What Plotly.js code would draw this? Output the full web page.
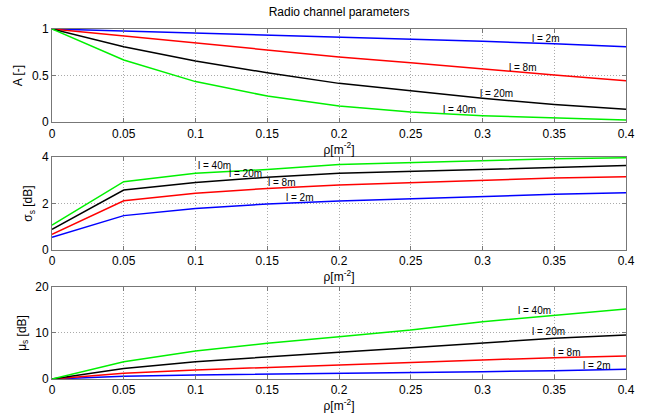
<!DOCTYPE html>
<html>
<head>
<meta charset="utf-8">
<script src="https://cdn.plot.ly/plotly-3.0.1.min.js"></script>
<style>html,body{margin:0;padding:0;background:#fff}#chart{width:647px;height:419px}</style>
</head>
<body>
<div id="chart"></div>
<script>
// Data
const rho = [0, 0.05, 0.1, 0.15, 0.2, 0.25, 0.3, 0.35, 0.4];
const seriesNames = ['l = 2m', 'l = 8m', 'l = 20m', 'l = 40m'];
const seriesColors = ['#0000ff', '#ff0000', '#000000', '#00f000'];

const A_l2  = [1, 0.978, 0.957, 0.935, 0.917, 0.892, 0.868, 0.842, 0.81];
const A_l8  = [1, 0.925, 0.846, 0.774, 0.70, 0.638, 0.57, 0.505, 0.444];
const A_l20 = [1, 0.81, 0.656, 0.53, 0.416, 0.337, 0.255, 0.19, 0.137];
const A_l40 = [1, 0.667, 0.435, 0.28, 0.172, 0.108, 0.068, 0.043, 0.022];

const sig_l2  = [0.55, 1.48, 1.79, 1.98, 2.11, 2.21, 2.31, 2.40, 2.46];
const sig_l8  = [0.67, 2.12, 2.44, 2.65, 2.80, 2.91, 3.01, 3.10, 3.15];
const sig_l20 = [0.89, 2.58, 2.91, 3.13, 3.30, 3.38, 3.48, 3.57, 3.64];
const sig_l40 = [1.07, 2.94, 3.30, 3.47, 3.68, 3.77, 3.86, 3.93, 3.97];

const mu_l2  = [0, 0.58, 0.87, 1.09, 1.23, 1.45, 1.60, 1.80, 2.10];
const mu_l8  = [0, 1.23, 1.96, 2.54, 3.04, 3.55, 4.13, 4.64, 5.00];
const mu_l20 = [0, 2.30, 3.77, 4.86, 5.80, 6.80, 7.90, 8.84, 9.56];
const mu_l40 = [0, 3.77, 6.09, 7.75, 9.20, 10.65, 12.46, 13.90, 15.20];

const xTickVals = [0, 0.05, 0.1, 0.15, 0.2, 0.25, 0.3, 0.35, 0.4];
const xTickText = ['0', '0.05', '0.1', '0.15', '0.2', '0.25', '0.3', '0.35', '0.4'];

// label positions (data coords) for the in-plot series labels
const labelsA   = [[0.344, 0.90], [0.328, 0.59], [0.31, 0.31], [0.284, 0.14]];
const labelsSig = [[0.173, 2.24], [0.160, 2.92], [0.135, 3.31], [0.113, 3.63]];
const labelsMu  = [[0.380, 3.0], [0.359, 5.7], [0.346, 10.3], [0.336, 14.85]];

const groups = [
  {ys: [A_l2, A_l8, A_l20, A_l40], xa: 'x', ya: 'y', labels: labelsA},
  {ys: [sig_l2, sig_l8, sig_l20, sig_l40], xa: 'x2', ya: 'y2', labels: labelsSig},
  {ys: [mu_l2, mu_l8, mu_l20, mu_l40], xa: 'x3', ya: 'y3', labels: labelsMu}
];

const traces = [];
const annotations = [];
groups.forEach(g => {
  g.ys.forEach((y, i) => {
    traces.push({x: rho, y: y, xaxis: g.xa, yaxis: g.ya, type: 'scatter', mode: 'lines',
      line: {color: seriesColors[i], width: 1.5}, showlegend: false, hoverinfo: 'skip'});
    annotations.push({x: g.labels[i][0], y: g.labels[i][1], xref: g.xa, yref: g.ya,
      text: seriesNames[i], showarrow: false, xanchor: 'center', yanchor: 'middle',
      font: {family: 'Liberation Sans, Arial, sans-serif', size: 10, color: '#000'}});
  });
});

const font = {family: 'Liberation Sans, Arial, sans-serif', size: 12, color: '#000'};
function xax(anchor) {
  return {anchor: anchor, range: [0, 0.4], tickvals: xTickVals, ticktext: xTickText,
    showline: true, mirror: 'ticks', linecolor: '#777', linewidth: 1,
    ticks: 'inside', ticklen: 4, tickcolor: '#777',
    showgrid: true, gridcolor: '#aaaaaa', griddash: '1px,2px', gridwidth: 1,
    zeroline: false, tickfont: font,
    title: {text: 'ρ[m<sup>-2</sup>]', font: font, standoff: 2}};
}
function yax(anchor, domain, range, tv, tt, title) {
  return {anchor: anchor, domain: domain, range: range, tickvals: tv, ticktext: tt,
    showline: true, mirror: 'ticks', linecolor: '#777', linewidth: 1,
    ticks: 'inside', ticklen: 4, tickcolor: '#777',
    showgrid: true, gridcolor: '#aaaaaa', griddash: '1px,2px', gridwidth: 1,
    zeroline: false, tickfont: font,
    title: {text: title, font: font, standoff: 6}};
}

const layout = {
  width: 647, height: 419,
  margin: {l: 52, r: 21, t: 29, b: 40},
  paper_bgcolor: '#fff', plot_bgcolor: '#fff',
  font: font,
  title: {text: 'Radio channel parameters', font: {family: 'Liberation Sans, Arial, sans-serif', size: 12, color: '#000'},
    x: 0.524, xanchor: 'center', y: 0.972, yanchor: 'middle'},
  xaxis: xax('y'),
  yaxis: yax('x', [0.734, 1], [0, 1], [0, 0.5, 1], ['0', '0.5', '1'], 'A [-]'),
  xaxis2: xax('y2'),
  yaxis2: yax('x2', [0.3686, 0.634], [0, 4], [0, 2, 4], ['0', '2', '4'], 'σ<sub>s</sub> [dB]'),
  xaxis3: xax('y3'),
  yaxis3: yax('x3', [0, 0.263], [0, 20], [0, 10, 20], ['0', '10', '20'], 'μ<sub>s</sub> [dB]'),
  annotations: annotations
};

Plotly.newPlot('chart', traces, layout, {displayModeBar: false, staticPlot: true});
</script>
</body>
</html>
